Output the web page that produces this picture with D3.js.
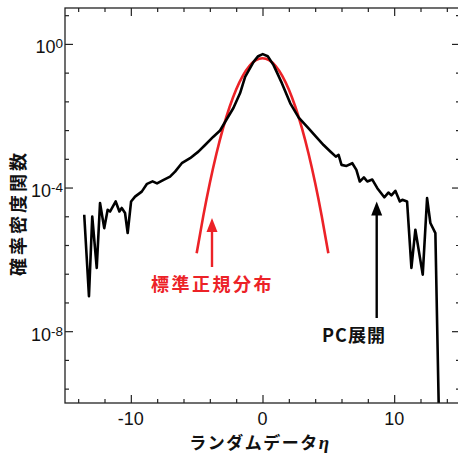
<!DOCTYPE html>
<html>
<head>
<meta charset="utf-8">
<script src="https://cdn.jsdelivr.net/npm/d3@7"></script>
<style>
	body { margin: 0; background: #fff; }
	svg text { font-family: "Liberation Sans", Arial, sans-serif; fill: #111; }
	.jp { font-family: "Noto Sans CJK JP", sans-serif; font-weight: bold; }
</style>
</head>
<body>
<div id="chart-area"></div>
<script>
// PC expansion density (black)
let pcX = [-13.54, -13.18, -12.93, -12.59, -12.34, -12.02, -11.76, -11.58, -11.15, -10.87,
	-10.69, -10.44, -10.24, -9.98, -9.68, -9.17, -8.77, -8.35, -8.01, -7.51,
	-7.02, -6.64, -6.13, -5.50, -4.87, -4.36, -3.73, -3.22, -2.71, -2.21,
	-1.70, -1.32, -0.68, -0.33, 0.02, 0.40, 0.84, 1.48, 2.11, 2.75,
	3.50, 4.06, 4.64, 5.15, 5.57, 5.78, 6.00, 6.38, 6.82, 7.13,
	7.39, 7.70, 7.96, 8.34, 8.72, 9.25, 9.56, 9.79, 10.09, 10.43,
	10.62, 10.98, 11.31, 11.61, 12.17, 12.50, 12.75, 13.13, 13.38];
let pcP = [1.75e-5, 9.4e-8, 1.56e-5, 5.8e-7, 3.7e-5, 7.4e-6, 2.4e-5, 2.15e-5, 4.1e-5, 2.15e-5,
	2.7e-5, 1.95e-5, 5.4e-6, 4.1e-5, 5.6e-5, 7.7e-5, 1.27e-4, 1.49e-4, 1.31e-4, 1.64e-4,
	2.02e-4, 2.78e-4, 4.76e-4, 6.56e-4, 1.0e-3, 1.53e-3, 2.61e-3, 3.88e-3, 8.1e-3, 1.64e-2,
	4.28e-2, 0.121, 0.316, 0.455, 0.518, 0.455, 0.256, 0.0794, 0.0221, 8.9e-3,
	4.47e-3, 2.61e-3, 1.53e-3, 1.01e-3, 7.26e-4, 8.1e-4, 4.28e-4, 4.0e-4, 4.76e-4, 3.1e-4,
	1.47e-4, 1.92e-4, 1.47e-4, 1.67e-4, 9.6e-5, 5.35e-5, 7.26e-5, 6.07e-5, 8.1e-5, 4.1e-5,
	4.55e-5, 4.1e-5, 5.8e-7, 6.7e-6, 3.76e-7, 5.1e-5, 1.03e-5, 5.4e-6, 1e-10];

// standard normal density (red)
let normX = [-5, -4.5, -4, -3.5, -3, -2.5, -2, -1.5, -1, -0.5, 0,
	0.5, 1, 1.5, 2, 2.5, 3, 3.5, 4, 4.5, 5];
let normP = [1.487e-6, 1.598e-5, 1.338e-4, 8.727e-4, 4.432e-3, 1.753e-2, 5.399e-2, 0.1295, 0.2420, 0.3521, 0.3989,
	0.3521, 0.2420, 0.1295, 5.399e-2, 1.753e-2, 4.432e-3, 8.727e-4, 1.338e-4, 1.598e-5, 1.487e-6];

// axis ticks
let xMajor = [-10, 0, 10];
let xMinor = [-14, -12, -8, -6, -4, -2, 2, 4, 6, 8, 12, 14];
let yMajorExp = [0, -4, -8];
let yMinorExp = [0.8, -0.8, -1.6, -2.4, -3.2, -4.8, -5.6, -6.4, -7.2, -8.8, -9.6];

let red = "#ec2227";

let svg = d3.select("#chart-area")
	.append("svg")
	.attr("width", 458)
	.attr("height", 457);

let x = d3.scaleLinear().domain([-15, 15]).range([65, 460]);
let y = d3.scaleLog().domain([1e-10, 1e1]).range([403, 8]);

svg.append("clipPath").attr("id", "plot-clip")
	.append("rect")
	.attr("x", 65).attr("y", 8)
	.attr("width", 395).attr("height", 395);

// curves
let line = d3.line()
	.x(d => x(d[0]))
	.y(d => y(d[1]));

svg.append("path")
	.datum(d3.zip(normX, normP))
	.attr("clip-path", "url(#plot-clip)")
	.attr("fill", "none")
	.attr("stroke", red)
	.attr("stroke-width", 2.6)
	.attr("d", line.curve(d3.curveMonotoneX));

svg.append("path")
	.datum(d3.zip(pcX, pcP))
	.attr("clip-path", "url(#plot-clip)")
	.attr("fill", "none")
	.attr("stroke", "#000")
	.attr("stroke-width", 2.6)
	.attr("stroke-linejoin", "round")
	.attr("d", line.curve(d3.curveLinear));

// ticks (inward), no domain lines
function ticks(axis, tr, size, values) {
	let g = svg.append("g")
		.attr("transform", tr)
		.call(axis.tickValues(values).tickSizeInner(size).tickSizeOuter(0).tickFormat(""));
	g.select(".domain").remove();
	g.selectAll("line").attr("stroke", "#222").attr("stroke-width", 1.2);
	return g;
}
ticks(d3.axisBottom(x), "translate(0,403)", -8, xMajor);
ticks(d3.axisBottom(x), "translate(0,403)", -4, xMinor);
ticks(d3.axisTop(x), "translate(0,8)", -8, xMajor);
ticks(d3.axisTop(x), "translate(0,8)", -4, xMinor);
let yMaj = yMajorExp.map(e => Math.pow(10, e));
let yMin = yMinorExp.map(e => Math.pow(10, e));
ticks(d3.axisLeft(y), "translate(65,0)", -8, yMaj);
ticks(d3.axisLeft(y), "translate(65,0)", -4, yMin);
ticks(d3.axisRight(y), "translate(460,0)", -8, yMaj);
ticks(d3.axisRight(y), "translate(460,0)", -4, yMin);

// frame
svg.append("rect")
	.attr("x", 65).attr("y", 8)
	.attr("width", 395).attr("height", 395)
	.attr("fill", "none")
	.attr("stroke", "#222")
	.attr("stroke-width", 1.3);

// x tick labels
svg.selectAll(".xlab")
	.data(xMajor)
	.enter()
	.append("text")
	.attr("class", "xlab")
	.attr("x", d => x(d))
	.attr("y", 425)
	.attr("text-anchor", "middle")
	.attr("font-size", 18)
	.text(d => d < 0 ? "-" + Math.abs(d) : d);

// y tick labels 10^n
let ylab = svg.selectAll(".ylab")
	.data(yMajorExp)
	.enter()
	.append("text")
	.attr("class", "ylab")
	.attr("x", 63)
	.attr("y", d => y(Math.pow(10, d)) + 9.5)
	.attr("text-anchor", "end")
	.attr("font-size", 18);
ylab.append("tspan").text("10");
ylab.append("tspan")
	.attr("font-size", 13.5)
	.attr("dy", -5)
	.text(d => d < 0 ? "-" + Math.abs(d) : d);

// axis titles
let xt = svg.append("text")
	.attr("class", "jp")
	.attr("x", 260)
	.attr("y", 448.5)
	.attr("text-anchor", "middle")
	.attr("font-size", 17)
	.attr("letter-spacing", 1.5)
	.text("ランダムデータ");
xt.append("tspan")
	.attr("font-family", "Liberation Serif, serif")
	.attr("font-style", "italic")
	.attr("font-size", 19)
	.text("η");

svg.append("text")
	.attr("class", "jp")
	.attr("transform", "translate(25,213) rotate(-90)")
	.attr("text-anchor", "middle")
	.attr("font-size", 18)
	.attr("letter-spacing", 3)
	.text("確率密度関数");

// annotations
function arrow(cx, yTip, yEnd, color) {
	svg.append("line")
		.attr("x1", cx).attr("x2", cx)
		.attr("y1", yTip + 10).attr("y2", yEnd)
		.attr("stroke", color)
		.attr("stroke-width", 2.4);
	svg.append("path")
		.attr("d", "M" + cx + "," + yTip + "L" + (cx + 5.5) + "," + (yTip + 14) + "L" + (cx - 5.5) + "," + (yTip + 14) + "Z")
		.attr("fill", color);
}
arrow(212, 218, 267, red);
arrow(376.7, 201.5, 318, "#000");

svg.append("text")
	.attr("class", "jp")
	.attr("x", 212.5)
	.attr("y", 291)
	.attr("text-anchor", "middle")
	.attr("font-size", 18)
	.attr("letter-spacing", 2.5)
	.style("fill", red)
	.text("標準正規分布");

svg.append("text")
	.attr("class", "jp")
	.attr("x", 354)
	.attr("y", 342)
	.attr("text-anchor", "middle")
	.attr("font-size", 18)
	.attr("letter-spacing", 1)
	.text("PC展開");
</script>
</body>
</html>
